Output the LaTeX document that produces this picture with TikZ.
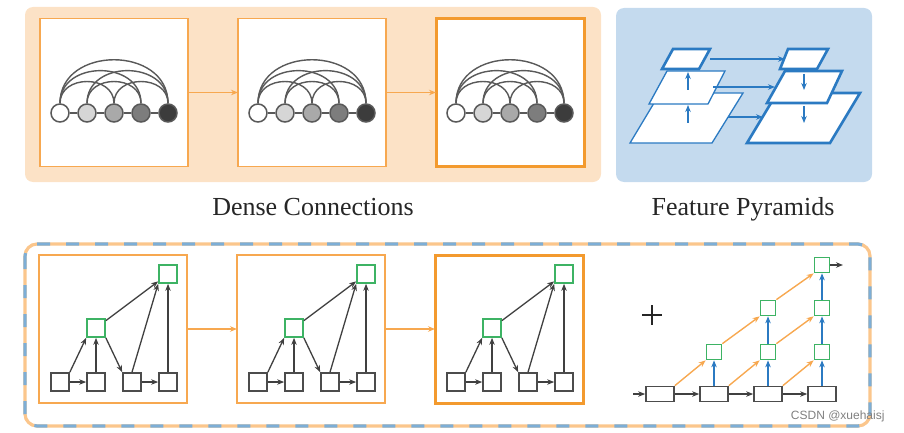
\documentclass[tikz,border=0pt]{standalone}
\usepackage{fontspec}
\setmainfont{Liberation Serif}
\newfontfamily\marksans{Liberation Sans}
\usetikzlibrary{arrows.meta,positioning,calc}

\definecolor{panelorange}{HTML}{F7A850}
\definecolor{deeporange}{HTML}{F39A2E}
\definecolor{dcback}{HTML}{FCE2C6}
\definecolor{fpback}{HTML}{C4DAEE}
\definecolor{fpblue}{HTML}{2B7AC2}
\definecolor{nodegreen}{HTML}{3DB364}
\definecolor{dashblue}{HTML}{7DAED6}
\definecolor{dashorange}{HTML}{FBC68C}
\definecolor{shadeA}{HTML}{D6D6D6}
\definecolor{shadeB}{HTML}{A9A9A9}
\definecolor{shadeC}{HTML}{7D7D7D}
\definecolor{shadeD}{HTML}{3C3C3C}

\tikzset{
  panel/.style={draw=panelorange, line width=1.8pt, fill=white,
    minimum width=148pt, minimum height=148pt, inner sep=0pt, outer sep=0pt},
  lastpanel/.style={panel, draw=deeporange, line width=3pt},
  dot/.style={circle, draw=black!65, line width=1.5pt, minimum size=18pt, inner sep=0pt},
  link/.style={black!65, line width=1.4pt},
  block/.style={draw=black!70, line width=1.7pt, fill=white, minimum size=18pt, inner sep=0pt},
  gblock/.style={block, draw=nodegreen},
  wideblock/.style={block, minimum width=28pt, minimum height=15pt},
  smallgblock/.style={gblock, minimum size=15pt},
  flow/.style={->, black!75, line width=1.3pt},
  oflow/.style={->, panelorange, line width=1.4pt},
  bflow/.style={->, fpblue, line width=1.4pt},
  thinlayer/.style={draw=fpblue, fill=white, line width=1.3pt, line join=miter},
  thicklayer/.style={thinlayer, line width=2.6pt},
  title/.style={font=\fontsize{26}{30}\selectfont, text=black!85, anchor=base}
}

\begin{document}
\begin{tikzpicture}[x=1pt, y=-1pt, >={Stealth[length=7pt,width=5.5pt]}]
    \useasboundingbox (0,0) rectangle (904,433);

    % Backgrounds of the two upper groups
    \fill[dcback, rounded corners=8pt] (25,7) rectangle (601,182);
    \fill[fpback, rounded corners=8pt] (616,8) rectangle (872,182);

    % Upper row: dense connection panels
    \node[panel] (tp1) at (114,92.5) {};
    \node[panel, right=50pt of tp1] (tp2) {};
    \node[lastpanel, right=50pt of tp2] (tp3) {};
    \draw[oflow] (tp1) -- (tp2);
    \draw[oflow] (tp2) -- (tp3);

    % Circles with their dense links
    \foreach \p in {1,2,3} {
        \foreach \k/\shade in {0/white,1/shadeA,2/shadeB,3/shadeC,4/shadeD}
            \node[dot, fill=\shade] (c\p-\k) at ($(tp\p.west)+(20+27*\k,20.5)$) {};
        \foreach \i/\j in {0/1,1/2,2/3,3/4}
            \draw[link] (c\p-\i) -- (c\p-\j);
        \foreach \i/\j in {0/2,0/3,0/4,1/3,1/4,2/4}
            \draw[link] (c\p-\i.north) .. controls +(0,{-14.5*(\j-\i)}) and +(0,{-14.5*(\j-\i)}) .. (c\p-\j.north);
    }

    % Feature pyramids, left side (largest layer first)
    \draw[thinlayer] (660,93) -- (743,93) -- (712,143) -- (630,143) -- cycle;
    \draw[thinlayer] (667,71) -- (725,71) -- (708,104) -- (649,104) -- cycle;
    \draw[thicklayer] (673,49) -- (710,49) -- (699,69) -- (662,69) -- cycle;
    % right side
    \draw[thicklayer] (777,93) -- (860,93) -- (830,143) -- (747,143) -- cycle;
    \draw[thicklayer] (785,71) -- (842,71) -- (827,103) -- (767,103) -- cycle;
    \draw[thicklayer] (788,49) -- (828,49) -- (817,69) -- (780,69) -- cycle;

    % Arrow ends of the pyramids
    \coordinate (la-top) at (710,59);   \coordinate (ra-top) at (785,59);
    \coordinate (la-mid) at (713,87);   \coordinate (ra-mid) at (775,87);
    \coordinate (la-low) at (728,117);  \coordinate (ra-low) at (763,117);
    \coordinate (lu1) at (688,90);  \coordinate (lu2) at (688,72);
    \coordinate (lu3) at (688,123); \coordinate (lu4) at (688,105);
    \coordinate (rd1) at (804,74);  \coordinate (rd2) at (804,90);
    \coordinate (rd3) at (804,106); \coordinate (rd4) at (804,123);
    \draw[bflow] (la-top) -- (ra-top);
    \draw[bflow] (la-mid) -- (ra-mid);
    \draw[bflow] (la-low) -- (ra-low);
    \draw[bflow] (lu1) -- (lu2);
    \draw[bflow] (lu3) -- (lu4);
    \draw[bflow] (rd1) -- (rd2);
    \draw[bflow] (rd3) -- (rd4);

    % Captions
    \node[title] (dctitle) at (313,215) {Dense Connections};
    \node[title] (fptitle) at (743,215) {Feature Pyramids};

    % Lower frame: orange line with blue dashes over it
    \draw[dashorange, line width=3.2pt, rounded corners=12pt] (25,244) rectangle (870,426);
    \draw[dashblue, line width=3.2pt, dash pattern=on 13pt off 16pt, rounded corners=12pt] (25,244) rectangle (870,426);

    % Lower row: aggregation panels
    \node[panel] (bp1) at (113,329) {};
    \node[panel, right=50pt of bp1] (bp2) {};
    \node[lastpanel, right=50pt of bp2] (bp3) {};
    \draw[oflow] (bp1) -- (bp2);
    \draw[oflow] (bp2) -- (bp3);

    \foreach \p in {1,2,3} {
        \foreach \k in {1,2,3,4}
            \node[block] (b\p-\k) at ($(bp\p.west)+(36*\k-15,53)$) {};
        \node[gblock] (g\p-1) at ($(bp\p.west)+(57,-1)$) {};
        \node[gblock] (g\p-2) at ($(bp\p.west)+(129,-55)$) {};
        \draw[flow] (b\p-1) -- (b\p-2);
        \draw[flow] (b\p-3) -- (b\p-4);
        \draw[flow] (b\p-1.north east) -- (g\p-1.south west);
        \draw[flow] (b\p-2) -- (g\p-1);
        \draw[flow] (g\p-1.south east) -- (b\p-3.north west);
        \draw[flow] (g\p-1) -- (g\p-2);
        \draw[flow] (b\p-3.north) -- (g\p-2.south west);
        \draw[flow] (b\p-4) -- (g\p-2);
    }

    % Plus sign
    \draw[black!85, line width=2.6pt] (642,315) -- (662,315) (652,305) -- (652,325);

    % Iterative deep aggregation tree
    \foreach \k in {1,2,3,4}
        \node[wideblock] (r\k) at (606+54*\k,394) {};
    \node[smallgblock] (s21) at (714,352) {};
    \node[smallgblock] (s31) at (768,352) {};
    \node[smallgblock] (s32) at (768,308) {};
    \node[smallgblock] (s41) at (822,352) {};
    \node[smallgblock] (s42) at (822,308) {};
    \node[smallgblock] (s43) at (822,265) {};
    \coordinate (in) at (633,394);
    \coordinate (out) at (843,265);

    \draw[flow] (in) -- (r1);
    \draw[flow] (r1) -- (r2);
    \draw[flow] (r2) -- (r3);
    \draw[flow] (r3) -- (r4);
    \draw[flow] (s43) -- (out);

    \draw[bflow] (r2) -- (s21);
    \draw[bflow] (r3) -- (s31);
    \draw[bflow] (s31) -- (s32);
    \draw[bflow] (r4) -- (s41);
    \draw[bflow] (s41) -- (s42);
    \draw[bflow] (s42) -- (s43);

    \draw[oflow] (r1.north east) -- (s21.south west);
    \draw[oflow] (r2.north east) -- (s31.south west);
    \draw[oflow] (r3.north east) -- (s41.south west);
    \draw[oflow] (s21.north east) -- (s32.south west);
    \draw[oflow] (s31.north east) -- (s42.south west);
    \draw[oflow] (s32.north east) -- (s43.south west);

    % Watermark
    \node[font=\marksans\fontsize{12}{14}\selectfont, text=black!50, anchor=base east] (mark) at (888,419) {CSDN @xuehaisj};

\end{tikzpicture}
\end{document}
